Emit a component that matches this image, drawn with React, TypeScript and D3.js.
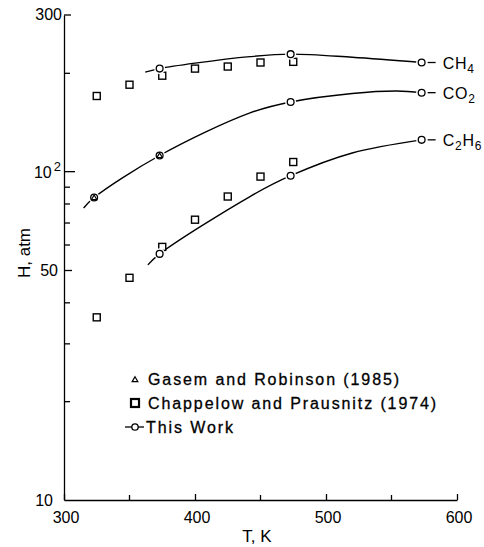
import React, { useEffect, useRef } from 'react';
import * as d3 from 'd3';

// Henry's constants (T in K, H in atm)
const thisWorkCH4: [number, number][] = [[373, 206], [473, 228], [573, 215]];
const thisWorkCO2: [number, number][] = [[323, 83.4], [373, 112], [473, 163], [573, 174]];
const thisWorkC2H6: [number, number][] = [[373, 56.2], [473, 97.2], [573, 125]];

const gasemCO2: [number, number][] = [[323, 83.4], [373, 112]];

const chappelowCH4: [number, number][] = [
  [325, 170], [350, 184], [375, 196], [400, 206], [425, 209], [450, 215], [475, 216]
];
const chappelowC2H6: [number, number][] = [
  [325, 36], [350, 47.5], [375, 59], [400, 71.4], [425, 84], [450, 96.6], [475, 107]
];

// smoothed fit curves
const curveCH4: [number, number][] = [[362, 201], [373, 206], [400, 214], [442, 224], [473, 228], [520, 223], [573, 215]];
const curveCO2: [number, number][] = [[315, 77.5], [323, 83.4], [373, 112], [442, 151], [473, 163], [520, 173], [554, 176], [573, 174]];
const curveC2H6: [number, number][] = [[364, 52], [373, 56.2], [442, 84], [473, 97.2], [520, 114], [573, 125]];

const seriesLabels = [
  { main: 'CH', sub: '4', end: [573, 215] },
  { main: 'CO', sub: '2', end: [573, 174] },
  { main: 'C', sub: '2', main2: 'H', sub2: '6', end: [573, 125] }
];

const xTicks = [300, 400, 500, 600];
const xMinorTicks = [350, 450, 550];
const yMinorTicks = [20, 30, 40, 60, 70, 80, 90, 200];

const legendItems = ['Gasem and Robinson (1985)', 'Chappelow and Prausnitz (1974)', 'This Work'];

const FONT = '"Liberation Sans", Arial, sans-serif';

const App = () => {
  const svgRef = useRef<SVGSVGElement>(null);

  useEffect(() => {
    const svg = d3.select(svgRef.current);
    svg.selectAll('*').remove();

    const width = 484;
    const height = 547;

    const x = d3.scaleLinear().domain([300, 600]).range([64, 457]);
    const y = d3.scaleLog().domain([10, 300]).range([500, 15]);

    svg.attr('width', width).attr('height', height);
    const g = svg.append('g');

    // y axis, ticks pointing inward
    const yAx = g.append('g').attr('transform', `translate(${x(300)},0)`);
    yAx.call(d3.axisRight(y).tickValues(yMinorTicks).tickSize(6).tickSizeOuter(0).tickFormat(() => ''));
    yAx.append('line').attr('x1', 0).attr('x2', 11).attr('y1', y(100)).attr('y2', y(100));
    yAx.append('line').attr('x1', 0).attr('x2', 8).attr('y1', y(50)).attr('y2', y(50));
    yAx.append('line').attr('x1', 0).attr('x2', 7).attr('y1', y(300)).attr('y2', y(300));
    yAx.selectAll('line').attr('stroke', '#000').attr('stroke-width', 1.3);
    yAx.select('.domain').attr('stroke-width', 1.3);

    // x axis
    const xAx = g.append('g').attr('transform', `translate(0,${y(10)})`);
    xAx.call(d3.axisTop(x).tickValues(xTicks).tickSize(6).tickSizeOuter(0).tickFormat(() => ''));
    xMinorTicks.forEach((t) => {
      xAx.append('line').attr('x1', x(t)).attr('x2', x(t)).attr('y1', 0).attr('y2', -5);
    });
    xAx.selectAll('line').attr('stroke', '#000').attr('stroke-width', 1.3);
    xAx.select('.domain').attr('stroke-width', 1.3);

    // tick labels
    const lab = g.append('g').style('font-family', FONT).style('font-size', '16px').attr('fill', '#000');
    xTicks.forEach((t) => {
      lab.append('text').attr('x', x(t) + 2).attr('y', 523).attr('text-anchor', 'middle').text(t);
    });
    lab.append('text').attr('x', 62).attr('y', y(300) + 5).attr('text-anchor', 'end').text('300');
    lab.append('text').attr('x', 58).attr('y', y(50) + 6).attr('text-anchor', 'end').text('50');
    lab.append('text').attr('x', 53).attr('y', y(10) + 6).attr('text-anchor', 'end').text('10');
    const t100 = lab.append('text').attr('x', 61).attr('y', y(100) + 6).attr('text-anchor', 'end');
    t100.append('tspan').text('10');
    t100.append('tspan').attr('dy', -7).attr('dx', 2).style('font-size', '13px').text('2');

    // axis titles
    lab.append('text')
      .attr('transform', `translate(30,253) rotate(-90)`)
      .attr('text-anchor', 'middle')
      .style('font-size', '17px')
      .text('H, atm');
    lab.append('text').attr('x', 257).attr('y', 542).attr('text-anchor', 'middle').style('font-size', '17px').text('T, K');

    // fitted curves
    const line = d3.line<[number, number]>()
      .x((d) => x(d[0]))
      .y((d) => y(d[1]))
      .curve(d3.curveCatmullRom.alpha(0.5));
    [curveCH4, curveCO2, curveC2H6].forEach((c) => {
      g.append('path').attr('d', line(c)).attr('fill', 'none').attr('stroke', '#000').attr('stroke-width', 1.4);
    });

    // Chappelow squares
    [...chappelowCH4, ...chappelowC2H6].forEach((d) => {
      g.append('rect')
        .attr('x', x(d[0]) - 3.5).attr('y', y(d[1]) - 3.5)
        .attr('width', 7).attr('height', 7)
        .attr('fill', '#fff').attr('stroke', '#000').attr('stroke-width', 1.4);
    });

    // This work circles (white halo to leave a gap in the curve)
    [...thisWorkCH4, ...thisWorkCO2, ...thisWorkC2H6].forEach((d) => {
      g.append('circle').attr('cx', x(d[0])).attr('cy', y(d[1])).attr('r', 5.5).attr('fill', '#fff');
      g.append('circle').attr('cx', x(d[0])).attr('cy', y(d[1])).attr('r', 3.4)
        .attr('fill', 'none').attr('stroke', '#000').attr('stroke-width', 1.3);
    });

    // Gasem triangles (overlapping circles)
    const tri = d3.symbol().type(d3.symbolTriangle).size(12);
    gasemCO2.forEach((d) => {
      g.append('path').attr('d', tri()).attr('transform', `translate(${x(d[0])},${y(d[1]) + 0.5})`)
        .attr('fill', 'none').attr('stroke', '#000').attr('stroke-width', 1.2);
    });

    // series labels with leader dashes
    seriesLabels.forEach((s) => {
      const cx = x(s.end[0]);
      const cy = y(s.end[1]);
      g.append('line').attr('x1', cx + 6).attr('x2', cx + 14).attr('y1', cy).attr('y2', cy)
        .attr('stroke', '#000').attr('stroke-width', 1.3);
      const t = g.append('text').attr('x', cx + 21).attr('y', cy + 6)
        .style('font-family', FONT).style('font-size', '16px').style('letter-spacing', '0.8px').attr('fill', '#000');
      t.append('tspan').text(s.main);
      t.append('tspan').attr('dy', 4).style('font-size', '12px').text(s.sub);
      if (s.main2) {
        t.append('tspan').attr('dy', -4).text(s.main2);
        t.append('tspan').attr('dy', 4).style('font-size', '12px').text(s.sub2);
      }
    });

    // legend
    const legY = [379, 403, 427];
    const leg = g.append('g');
    leg.append('path').attr('d', d3.symbol().type(d3.symbolTriangle).size(14)()).attr('transform', `translate(135,${legY[0] + 1})`)
      .attr('fill', 'none').attr('stroke', '#000').attr('stroke-width', 1.2);
    leg.append('rect').attr('x', 131).attr('y', legY[1] - 4).attr('width', 8).attr('height', 8)
      .attr('fill', '#fff').attr('stroke', '#000').attr('stroke-width', 2.2);
    leg.append('line').attr('x1', 125).attr('x2', 144).attr('y1', legY[2]).attr('y2', legY[2])
      .attr('stroke', '#000').attr('stroke-width', 1.3);
    leg.append('circle').attr('cx', 135).attr('cy', legY[2]).attr('r', 3.2)
      .attr('fill', '#fff').attr('stroke', '#000').attr('stroke-width', 1.3);
    legendItems.forEach((txt, i) => {
      leg.append('text').attr('x', i === 2 ? 146 : 148).attr('y', legY[i] + 6)
        .style('font-family', FONT).style('font-size', '16px').style('letter-spacing', '1.9px')
        .attr('fill', '#000').attr('stroke', '#000').attr('stroke-width', 0.3)
        .text(txt);
    });
  }, []);

  return (
    <div style={{ position: 'absolute', left: 0, top: 0, width: 484, height: 547 }}>
      <svg ref={svgRef} style={{ display: 'block' }}></svg>
    </div>
  );
};

export default App;
